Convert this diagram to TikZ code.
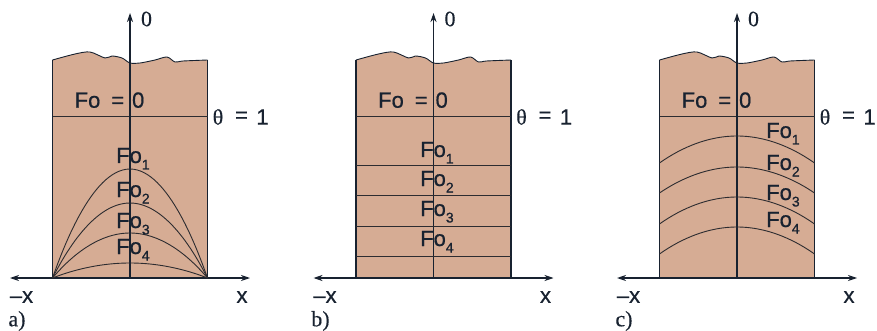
\documentclass[tikz,border=0pt]{standalone}
\usepackage{fontspec}
\setmainfont{Liberation Serif}
\setsansfont{Liberation Sans}
\newfontfamily\labfont[FakeBold=0.6]{Liberation Sans}
\newfontfamily\serfont[FakeBold=0.3]{Liberation Serif}
\usetikzlibrary{arrows.meta}
\definecolor{fillc}{RGB}{214,172,148}
\definecolor{linec}{RGB}{24,34,48}
\definecolor{thinc}{RGB}{45,44,48}
\tikzset{
  axisarrow/.style={draw=linec, line width=1.1pt, -{Stealth[length=9pt,width=6pt]}},
  haxis/.style={draw=linec, line width=1.1pt, {Stealth[length=9pt,width=6pt]}-{Stealth[length=9pt,width=6pt]}},
  sideedge/.style={draw=linec, line width=1.8pt},
  thinline/.style={draw=thinc, line width=0.9pt},
  lab/.style={font=\labfont\fontsize{22}{22}\selectfont, text=linec, inner sep=0pt},
  serlab/.style={font=\serfont\fontsize{22}{22}\selectfont, text=linec, inner sep=0pt},
}
\newcommand\FoSub[1]{Fo\raisebox{-6.5pt}{\fontsize{14}{14}\selectfont #1}}
\newcommand\WavyTop{plot[smooth, tension=0.5] coordinates {(-77.5,60) (-55,54) (-40,52) (-25,58) (-18,56) (-8,58) (0,63) (10,63) (25,60) (37,57) (45,62) (53,61) (77.5,60)}}
\newcommand\PanelBase[2]{%
  \begin{scope}[xshift=#1pt]
    \coordinate (#2-bl) at (-77.5,278);
    \coordinate (#2-br) at (77.5,278);
    \coordinate (#2-tl) at (-77.5,60);
    \coordinate (#2-tr) at (77.5,60);
    \coordinate (#2-bc) at (0,278);
    \coordinate (#2-top) at (0,13);
    \coordinate (#2-xl) at (-120,278);
    \coordinate (#2-xr) at (120,278);
    \fill[fillc] \WavyTop -- (#2-br) -- (#2-bl) -- cycle;
    \draw[draw=linec, line width=0.9pt] \WavyTop;
    \draw[sideedge] (#2-bl) -- (#2-tl);
    \draw[sideedge] (#2-br) -- (#2-tr);
    \coordinate (#2-f0l) at (-77.5,116);
    \coordinate (#2-f0r) at (77.5,116);
    \draw[thinline] (#2-f0l) -- (#2-f0r);
    \draw[axisarrow] (#2-bc) -- (#2-top);
    \draw[haxis] (#2-xl) -- (#2-xr);
    \node[serlab] (#2-zero) at (16.5,19) {0};
    \node[lab] (#2-mx) at (-108.5,297) {–x};
    \node[lab] (#2-x) at (112,297) {x};
    \node[serlab] (#2-letter) at (-113,321) {#2)};
    \node[serlab] (#2-theta) at (88,117) {θ};
    \node[lab] (#2-theq) at (111.5,117) {=};
    \node[lab] (#2-one) at (132.5,117) {1};
    \node[lab, anchor=base] (#2-fo0) at (-42.5,107.7) {Fo};
    \node[lab, anchor=base] (#2-fo0eq) at (-12.2,107.7) {=};
    \node[lab, anchor=base] (#2-fo0z) at (8.2,107.7) {0};
  \end{scope}}
\begin{document}
\begin{tikzpicture}[x=1pt,y=-1pt]
\useasboundingbox (0,0) rectangle (877,331);
% panel a
\PanelBase{130}{a}
\begin{scope}[xshift=130pt]
  \draw[thinline] (a-bl) parabola bend (0,169) (a-br);
  \draw[thinline] (a-bl) parabola bend (0,203) (a-br);
  \draw[thinline] (a-bl) parabola bend (0,233) (a-br);
  \draw[thinline] (a-bl) parabola bend (0,263) (a-br);
  \node[lab, anchor=base west] (a-fo1) at (-14,163) {\FoSub{1}};
  \node[lab, anchor=base west] (a-fo2) at (-14,197) {\FoSub{2}};
  \node[lab, anchor=base west] (a-fo3) at (-14,228) {\FoSub{3}};
  \node[lab, anchor=base west] (a-fo4) at (-14,254) {\FoSub{4}};
\end{scope}
% panel b
\PanelBase{433.5}{b}
\begin{scope}[xshift=433.5pt]
  \coordinate (b-l1l) at (-77.5,165); \coordinate (b-l1r) at (77.5,165);
  \coordinate (b-l2l) at (-77.5,195); \coordinate (b-l2r) at (77.5,195);
  \coordinate (b-l3l) at (-77.5,226); \coordinate (b-l3r) at (77.5,226);
  \coordinate (b-l4l) at (-77.5,256); \coordinate (b-l4r) at (77.5,256);
  \draw[thinline] (b-l1l) -- (b-l1r);
  \draw[thinline] (b-l2l) -- (b-l2r);
  \draw[thinline] (b-l3l) -- (b-l3r);
  \draw[thinline] (b-l4l) -- (b-l4r);
  \node[lab, anchor=base west] (b-fo1) at (-13.5,157) {\FoSub{1}};
  \node[lab, anchor=base west] (b-fo2) at (-13.5,186) {\FoSub{2}};
  \node[lab, anchor=base west] (b-fo3) at (-13.5,216) {\FoSub{3}};
  \node[lab, anchor=base west] (b-fo4) at (-13.5,246) {\FoSub{4}};
\end{scope}
% panel c
\PanelBase{737}{c}
\begin{scope}[xshift=737pt]
  \coordinate (c-c1l) at (-77.5,163); \coordinate (c-c1r) at (77.5,163);
  \coordinate (c-c2l) at (-77.5,193); \coordinate (c-c2r) at (77.5,193);
  \coordinate (c-c3l) at (-77.5,224); \coordinate (c-c3r) at (77.5,224);
  \coordinate (c-c4l) at (-77.5,254); \coordinate (c-c4r) at (77.5,254);
  \draw[thinline] (c-c1l) parabola bend (0,136) (c-c1r);
  \draw[thinline] (c-c2l) parabola bend (0,167) (c-c2r);
  \draw[thinline] (c-c3l) parabola bend (0,197) (c-c3r);
  \draw[thinline] (c-c4l) parabola bend (0,227) (c-c4r);
  \node[lab, anchor=base west] (c-fo1) at (29,138) {\FoSub{1}};
  \node[lab, anchor=base west] (c-fo2) at (29,170) {\FoSub{2}};
  \node[lab, anchor=base west] (c-fo3) at (29,200) {\FoSub{3}};
  \node[lab, anchor=base west] (c-fo4) at (29,227) {\FoSub{4}};
\end{scope}
\end{tikzpicture}
\end{document}
